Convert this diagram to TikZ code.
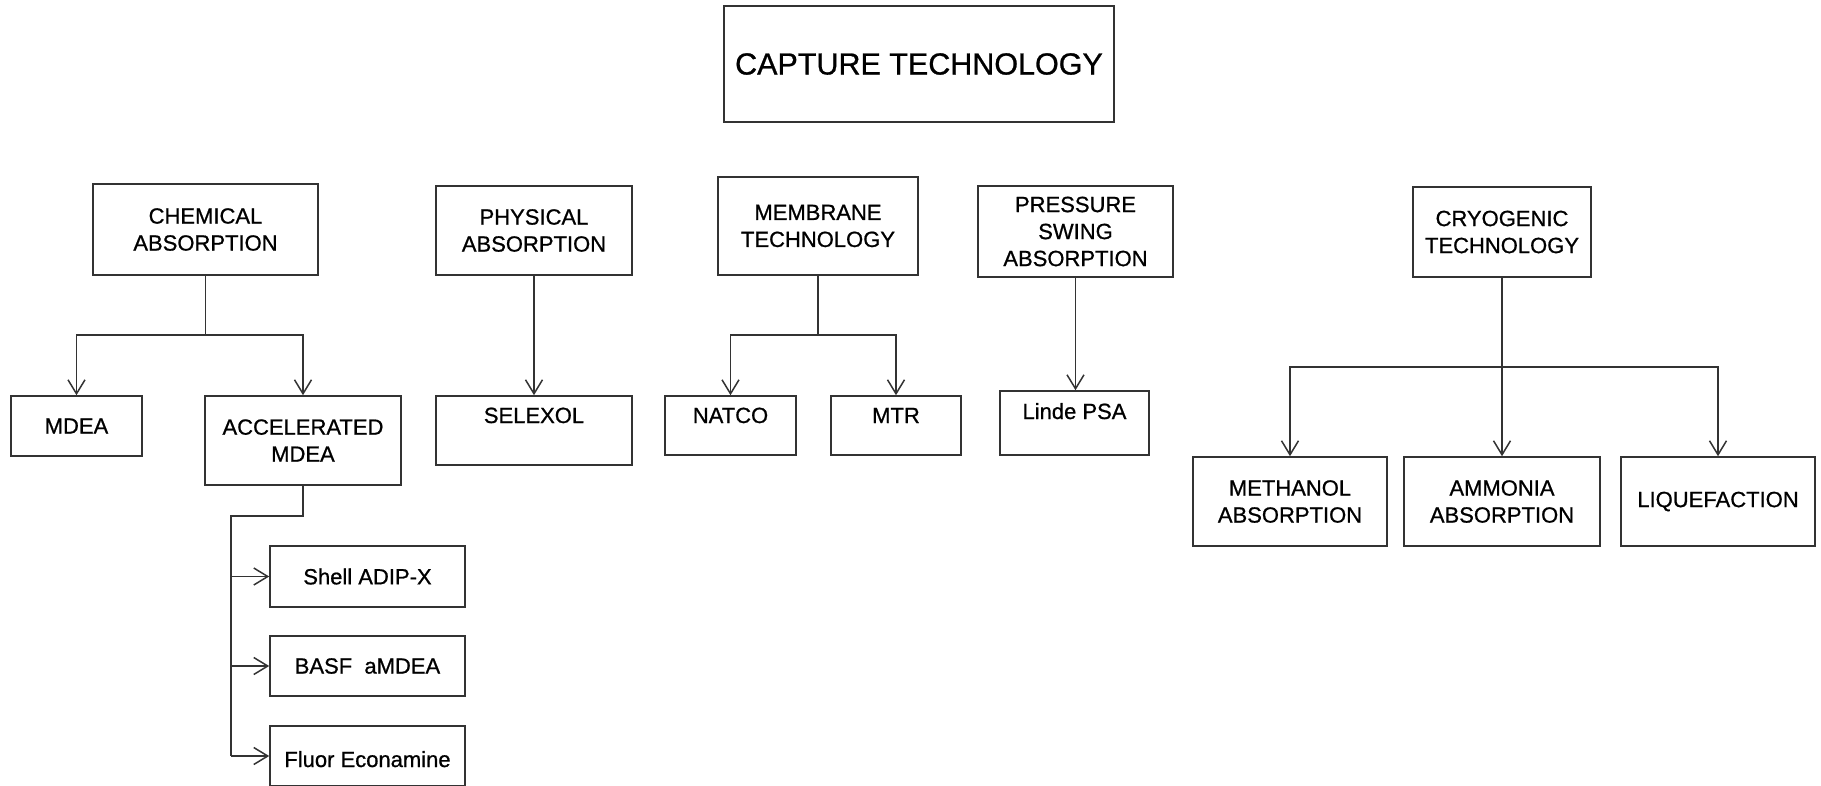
\documentclass[tikz,border=0pt]{standalone}
\usepackage{fontspec}
\setmainfont[FakeBold=0.8]{Liberation Sans}
\usetikzlibrary{arrows.meta}
\definecolor{ln}{HTML}{333333}
\tikzset{
  box/.style 2 args={draw=ln, line width=1.6pt, minimum width=#1, minimum height=#2,
     inner sep=0pt, align=center, font=\fontsize{22}{27}\selectfont},
  conn/.style={draw=ln, line width=1.5pt},
  arr/.style={conn, -{Straight Barb[length=14pt,width=17pt,line width=1.5pt]}}
}
\begin{document}
\begin{tikzpicture}[x=1pt,y=-1pt]
\useasboundingbox[fill=white] (0,0) rectangle (1821,785);

% title
\node[box={390pt}{116pt}, font=\fontsize{30.5}{36}\selectfont] (title) at (919,64) {CAPTURE TECHNOLOGY};

% top level
\node[box={225pt}{91pt}] (chem) at (205.5,229.5) {CHEMICAL\\ABSORPTION};
\node[box={196pt}{89pt}] (phys) at (534,230.5) {PHYSICAL\\ABSORPTION};
\node[box={200pt}{98pt}] (memb) at (818,226) {MEMBRANE\\TECHNOLOGY};
\node[box={195pt}{91pt}] (psa) at (1075.5,231.5) {PRESSURE\\SWING\\ABSORPTION};
\node[box={178pt}{90pt}] (cryo) at (1502,232) {CRYOGENIC\\TECHNOLOGY};

% second level
\node[box={131pt}{60pt}] (mdea) at (76.5,426) {MDEA};
\node[box={196pt}{89pt}] (accel) at (303,440.5) {ACCELERATED\\MDEA};
\node[box={196pt}{0pt}, text height=27pt, text depth=42pt] (selexol) at (534,430.5) {SELEXOL};
\node[box={131pt}{0pt}, text height=27pt, text depth=32pt] (natco) at (730.5,425.5) {NATCO};
\node[box={130pt}{0pt}, text height=27pt, text depth=32pt] (mtr) at (896,425.5) {MTR};
\node[box={149pt}{0pt}, text height=28pt, text depth=36pt] (linde) at (1074.5,423) {Linde PSA};
\node[box={194pt}{89pt}] (meth) at (1290,501.5) {METHANOL\\ABSORPTION};
\node[box={196pt}{89pt}] (ammo) at (1502,501.5) {AMMONIA\\ABSORPTION};
\node[box={194pt}{89pt}] (liq) at (1718,501.5) {LIQUEFACTION};

% third level
\node[box={195pt}{61pt}] (shell) at (367.5,576.5) {Shell ADIP-X};
\node[box={195pt}{60pt}] (basf) at (367.5,666) {BASF\ \ aMDEA};
\node[box={195pt}{0pt}, text height=41pt, text depth=19pt] (fluor) at (367.5,756) {Fluor Econamine};

% junctions
\coordinate (cj) at (205.5,335);
\coordinate (mj) at (818,335);
\coordinate (yj) at (1502,367);
\coordinate (aj1) at (303,516);
\coordinate (aj2) at (231,516);
\coordinate (aj3) at (231,756);

% connectors
\draw[conn] (chem.south) -- (cj);
\draw[arr] (cj) -| (mdea.north);
\draw[arr] (cj) -| (accel.north);

\draw[arr] (phys.south) -- (selexol.north);

\draw[conn] (memb.south) -- (mj);
\draw[arr] (mj) -| (natco.north);
\draw[arr] (mj) -| (mtr.north);

\draw[arr] (psa.south) -- (psa.south |- linde.north);

\draw[conn] (cryo.south) -- (yj);
\draw[arr] (yj) -| (meth.north);
\draw[arr] (yj) -- (yj |- ammo.north);
\draw[arr] (yj) -| (liq.north);

\draw[conn] (accel.south) -- (aj1) -- (aj2) -- (aj3);
\draw[arr] (aj2 |- shell.west) -- (shell.west);
\draw[arr] (aj2 |- basf.west) -- (basf.west);
\draw[arr] (aj3) -- (fluor.west |- aj3);
\end{tikzpicture}
\end{document}
